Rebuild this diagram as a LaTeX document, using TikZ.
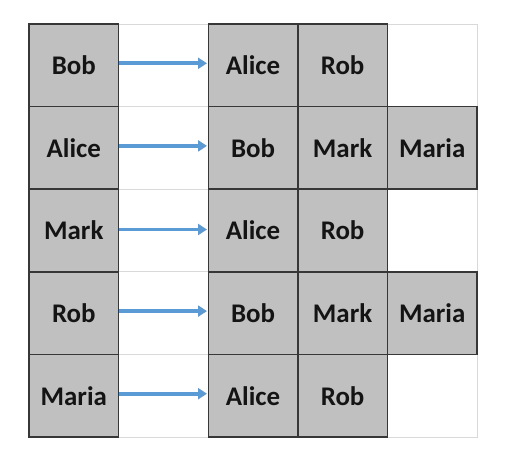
\documentclass[tikz,border=0pt]{standalone}
\usepackage{fontspec}
\setmainfont{Carlito}
\usetikzlibrary{arrows.meta}
\definecolor{cellgrey}{RGB}{192,192,192}
\definecolor{cellline}{RGB}{55,55,55}
\definecolor{gridgrey}{RGB}{217,217,217}
\definecolor{arrowblue}{RGB}{91,155,213}
\begin{document}
\begin{tikzpicture}[x=1bp,y=-1bp,
  cell/.style={draw=cellline,line width=1.4bp,fill=cellgrey,minimum width=89.6bp,minimum height=82.6bp,inner sep=0pt,anchor=center,font=\fontsize{27}{32}\selectfont\bfseries,text=black!92},
  blank/.style={draw=gridgrey,line width=0.8bp,fill=white,minimum width=89.6bp,minimum height=82.6bp,inner sep=0pt,anchor=center},
  link/.style={draw=arrowblue,line width=3.6bp,-{Triangle[length=9bp,width=11bp]},shorten >=0.5bp}]
\useasboundingbox[fill=white] (0,0) rectangle (505,467);
% column centres 73.8,163.4,253,342.6,432.2 ; row centres 65.3,147.9,230.5,313.1,395.7
% light grid cells
\node[blank] (b1) at (163.4,65.3) {};
\node[blank] (b2) at (163.4,147.9) {};
\node[blank] (b3) at (163.4,230.5) {};
\node[blank] (b4) at (163.4,313.1) {};
\node[blank] (b5) at (163.4,395.7) {};
\node[blank] (e1) at (432.2,65.3) {};
\node[blank] (e3) at (432.2,230.5) {};
\node[blank] (e5) at (432.2,395.7) {};
% row 1
\node[cell] (s1) at (73.8,65.3) {Bob};
\node[cell] (t11) at (253,65.3) {Alice};
\node[cell] (t12) at (342.6,65.3) {Rob};
% row 2
\node[cell] (s2) at (73.8,147.9) {Alice};
\node[cell] (t21) at (253,147.9) {Bob};
\node[cell] (t22) at (342.6,147.9) {Mark};
\node[cell] (t23) at (432.2,147.9) {Maria};
% row 3
\node[cell] (s3) at (73.8,230.5) {Mark};
\node[cell] (t31) at (253,230.5) {Alice};
\node[cell] (t32) at (342.6,230.5) {Rob};
% row 4
\node[cell] (s4) at (73.8,313.1) {Rob};
\node[cell] (t41) at (253,313.1) {Bob};
\node[cell] (t42) at (342.6,313.1) {Mark};
\node[cell] (t43) at (432.2,313.1) {Maria};
% row 5
\node[cell] (s5) at (73.8,395.7) {Maria};
\node[cell] (t51) at (253,395.7) {Alice};
\node[cell] (t52) at (342.6,395.7) {Rob};
% arrows
\draw[link] ([yshift=2bp]s1.east) -- ([yshift=2bp]t11.west);
\draw[link] ([yshift=2bp]s2.east) -- ([yshift=2bp]t21.west);
\draw[link] ([yshift=1bp]s3.east) -- ([yshift=1bp]t31.west);
\draw[link] ([yshift=2bp]s4.east) -- ([yshift=2bp]t41.west);
\draw[link] ([yshift=2bp]s5.east) -- ([yshift=2bp]t51.west);
\end{tikzpicture}
\end{document}
